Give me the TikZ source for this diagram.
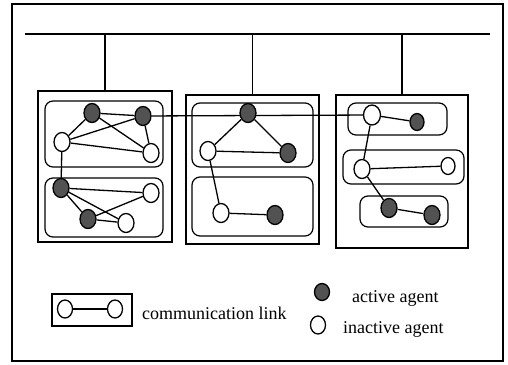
\documentclass[tikz,border=0pt]{standalone}
\usepackage{fontspec}
\setmainfont{Liberation Serif}
\usetikzlibrary{shapes.geometric,backgrounds}
\tikzset{
  agent/.style={ellipse, draw, line width=1.3pt, inner sep=0pt, minimum width=16pt, minimum height=19pt},
  active/.style={agent, fill=black!68},
  inactive/.style={agent, fill=white},
  host/.style={rectangle, draw, line width=1.2pt, inner sep=0pt},
  group/.style={rectangle, draw, line width=1.2pt, rounded corners=8pt, inner sep=0pt},
  link/.style={line width=1.3pt},
  keytext/.style={font=\fontsize{18}{20}\selectfont, inner sep=0pt, anchor=base west}
}

\begin{document}
\begin{tikzpicture}[x=1pt, y=-1pt]
			%%%%% START %%%%%
			\useasboundingbox (0,0) rectangle (508,364);
			\draw[line width=1.2pt] (12,4) rectangle (503,361);
			
			% bus
			\coordinate (busL) at (25,34);
			\coordinate (busR) at (490,34);
			\draw[line width=1.5pt] (busL) -- (busR);
			
			% hosts
			\node[host, minimum width=134pt, minimum height=151pt] (host1) at (105,166.5) {};
			\node[host, minimum width=133pt, minimum height=149pt] (host2) at (252.5,169.5) {};
			\node[host, minimum width=132pt, minimum height=153pt] (host3) at (402,171.5) {};
			\draw[link] (host1.north |- busL) -- (host1.north);
			\draw[link] (host2.north |- busL) -- (host2.north);
			\draw[link] (host3.north |- busL) -- (host3.north);
			
			% groups
			\node[group, minimum width=118pt, minimum height=66pt] (grp1) at (104,134) {};
			\node[group, minimum width=118pt, minimum height=59pt] (grp2) at (104,207.5) {};
			\node[group, minimum width=121pt, minimum height=64pt] (grp3) at (252.5,135) {};
			\node[group, minimum width=121pt, minimum height=59pt] (grp4) at (252.5,206.5) {};
			\node[group, minimum width=99pt, minimum height=32pt] (grp5) at (397.5,119) {};
			\node[group, minimum width=121pt, minimum height=34pt] (grp6) at (403.5,167) {};
			\node[group, minimum width=88pt, minimum height=31pt] (grp7) at (404,211.5) {};
			
			% agents
			\node[active] (a1) at (92,113) {};
			\node[active] (a2) at (143,116) {};
			\node[inactive] (i1) at (62,142) {};
			\node[inactive] (i2) at (151,153) {};
			\node[active] (a3) at (61,188) {};
			\node[inactive] (i3) at (151,193) {};
			\node[active] (a4) at (88,219) {};
			\node[inactive] (i4) at (126,223) {};
			
			\node[active] (a5) at (248,113) {};
			\node[inactive] (i5) at (208,151) {};
			\node[active] (a6) at (288,153) {};
			\node[inactive] (i6) at (221,213) {};
			\node[active] (a7) at (275,215) {};
			
			\node[inactive, minimum width=17pt, minimum height=20pt] (i7) at (372,115) {};
			\node[active, minimum width=14pt, minimum height=17pt] (a8) at (417,122) {};
			\node[inactive] (i8) at (362,169) {};
			\node[inactive, minimum width=14pt, minimum height=17pt] (i9) at (448,166) {};
			\node[active] (a9) at (389,208) {};
			\node[active] (a10) at (432,215) {};
			
			% links
			\begin{pgfonlayer}{background}
			\draw[link] (a1) -- (a2);
			\draw[link] (a1) -- (i1);
			\draw[link] (a1) -- (i2);
			\draw[link] (a2) -- (i1);
			\draw[link] (a2) -- (i2);
			\draw[link] (i1) -- (i2);
			\draw[link] (i1) -- (a3);
			\draw[link] (a3) -- (i3);
			\draw[link] (a3) -- (i4);
			\draw[link] (a4) -- (i3);
			\draw[link] (a4) -- (i4);
			\draw[link] (a3) -- (a4);
			\draw[link] (a2) -- (i7);
			\draw[link] (a5) -- (i5);
			\draw[link] (a5) -- (a6);
			\draw[link] (i5) -- (a6);
			\draw[link] (i5) -- (i6);
			\draw[link] (i6) -- (a7);
			\draw[link] (i7) -- (a8);
			\draw[link] (i7) -- (i8);
			\draw[link] (i8) -- (i9);
			\draw[link] (i8) -- (a9);
			\draw[link] (a9) -- (a10);
			\end{pgfonlayer}
			
			% key
			\node[host, minimum width=80pt, minimum height=32pt] (key) at (92,310) {};
			\node[inactive, minimum width=15pt, minimum height=18pt] (keyL) at (65,309) {};
			\node[inactive, minimum width=15pt, minimum height=18pt] (keyR) at (115,309) {};
			\draw[link] (keyL) -- (keyR);
			\node[keytext] (txtlink) at (142,319) {communication link};
			
			\node[active, minimum width=15pt, minimum height=17pt] (keyA) at (322,292) {};
			\node[keytext] (txtactive) at (352,302) {active agent};
			\node[inactive, minimum width=15pt, minimum height=18pt] (keyI) at (318,325) {};
			\node[keytext] (txtinactive) at (343,333) {inactive agent};
			%%%%% END %%%%%
\end{tikzpicture}
\end{document}
